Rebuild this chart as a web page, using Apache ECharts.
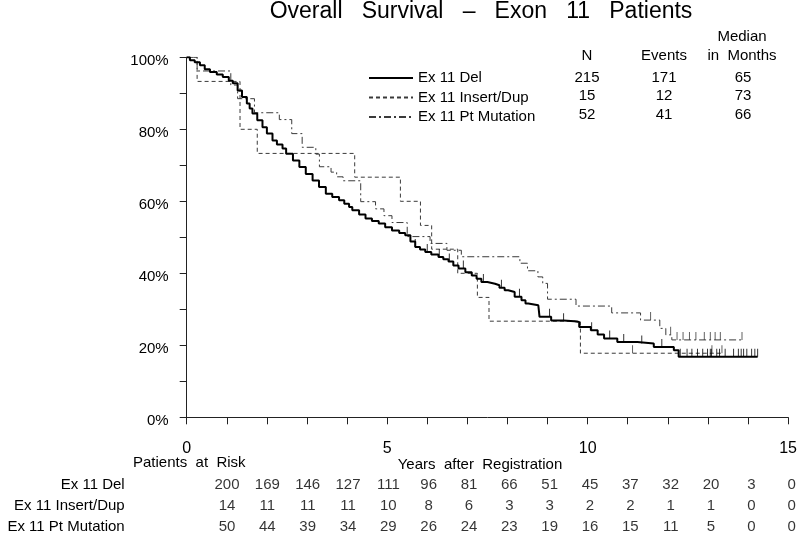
<!DOCTYPE html>
<html><head><meta charset="utf-8">
<script src="https://cdn.jsdelivr.net/npm/echarts@6/dist/echarts.min.js"></script>
<style>html,body{margin:0;padding:0;background:#fff}#c{width:800px;height:534px}</style>
</head><body><div id="c"></div>
<script>
// ---------- data ----------
const seriesNames = ['Ex 11 Del', 'Ex 11 Insert/Dup', 'Ex 11 Pt Mutation'];
// Kaplan-Meier curves: [years, survival %]
const delCurve = [[0,100],[0.08,99.2],[0.2,98.6],[0.33,97.8],[0.45,96.7],[0.58,95.9],[0.75,95.2],[0.9,94.5],[1.05,93.5],[1.15,92.8],[1.27,90.8],[1.38,89],[1.5,87.2],[1.57,85.8],[1.64,84.4],[1.76,82.5],[1.89,80.6],[2.0,78.8],[2.14,76.9],[2.25,75.8],[2.39,74.7],[2.48,73.2],[2.65,71.3],[2.81,69.5],[2.97,67.6],[3.14,65.8],[3.3,64],[3.47,62.1],[3.63,61.2],[3.8,60.3],[3.93,59.3],[4.05,58.4],[4.13,57.5],[4.3,56.3],[4.46,55.2],[4.62,54.5],[4.79,53.8],[4.95,52.8],[5.12,51.9],[5.3,51.2],[5.45,50.6],[5.58,48.8],[5.7,47.3],[5.82,46.6],[5.95,45.9],[6.1,45.2],[6.28,44.5],[6.4,43.9],[6.53,43.3],[6.65,42.2],[6.78,41.3],[6.95,40.3],[7.11,39.4],[7.23,38.5],[7.35,37.6],[7.5,37.1],[7.69,36.7],[7.8,36],[7.93,35.3],[8.02,34.8],[8.18,33.5],[8.35,32.5],[8.45,31.6],[8.52,31.1],[8.77,30.6],[8.8,27.9],[9.09,26.9],[9.4,26.7],[9.67,26.5],[9.79,25.1],[10.08,24.2],[10.25,23],[10.41,21.9],[10.74,20.9],[11.24,20.5],[11.65,19.5],[12.15,18.6],[12.27,16.8],[14.24,16.8]];
const insCurve = [[0,100],[0.26,93.3],[1.33,80],[1.76,73.3],[4.19,66.7],[5.33,60],[5.83,53.3],[6.11,46.7],[6.76,40],[7.25,33.3],[7.54,26.7],[9.82,17.8],[13.35,17.8]];
const ptCurve = [[0,100],[0.26,96.2],[1.1,92.3],[1.27,88.5],[1.69,84.6],[2.31,82.7],[2.62,78.8],[2.88,75],[3.22,73.1],[3.31,69.6],[3.6,68.1],[3.74,66.8],[3.9,65.7],[4.34,59.9],[4.71,57.9],[4.92,56],[5.12,54.1],[5.5,50.2],[6.07,48.3],[6.49,46.4],[6.85,44.6],[8.31,42.8],[8.5,40.7],[8.76,39],[8.88,37.2],[9.0,32.8],[9.71,30.9],[10.6,29],[11.32,27],[11.8,24.7],[11.95,22.9],[12.1,21.5],[13.85,21.5]];
// censoring times (years)
const delCensorYears = [5.7,6.0,6.3,6.55,6.9,7.4,7.85,8.3,9.05,9.4,10.1,10.55,10.9,11.35,11.85,12.31,12.48,12.6,12.74,12.87,12.99,13.06,13.09,13.22,13.29,13.43,13.64,13.76,13.83,13.89,13.97,14.09,14.17,14.24];
const insCensorYears = [11.12,13.1,13.35];
const ptCensorYears = [11.57,12.07,12.23,12.38,12.54,12.7,12.91,13.06,13.18,13.31,13.85];
// legend table
const legendN = ['215', '15', '52'];
const legendEvents = ['171', '12', '41'];
const legendMedian = ['65', '73', '66'];
// patients at risk
const riskYears = [1,2,3,4,5,6,7,8,9,10,11,12,13,14,15];
const riskDel = [200,169,146,127,111,96,81,66,51,45,37,32,20,3,0];
const riskIns = [14,11,11,11,10,8,6,3,3,2,2,1,1,0,0];
const riskPt = [50,44,39,34,29,26,24,23,19,16,15,11,5,0,0];
const xLabelYears = [0, 5, 10, 15];

// ---------- chart ----------
const FONT = 'Liberation Sans, Arial, sans-serif';
const survAt = (curve, t) => { let s = curve[0][1]; for (const p of curve) { if (p[0] <= t) s = p[1]; } return s; };
const censorData = (curve, yrs) => yrs.map(t => [t, survAt(curve, t)]);
const riskRows = [riskDel, riskIns, riskPt];
const riskData = [];
riskRows.forEach((row, r) => row.forEach((v, i) => riskData.push([riskYears[i], r, v])));

const lineColor = ['#000', '#3a3a3a', '#3a3a3a'];
const lineStyles = [
  {color: '#000', width: 2, type: 'solid'},
  {color: '#3a3a3a', width: 1, type: [4, 3]},
  {color: '#3a3a3a', width: 1, type: [7, 3, 2, 3]}
];
const curves = [delCurve, insCurve, ptCurve];
const censors = [delCensorYears, insCensorYears, ptCensorYears];

const series = [];
curves.forEach((c, i) => series.push({
  name: seriesNames[i], type: 'line', step: 'end', symbol: 'none', data: c,
  lineStyle: lineStyles[i], itemStyle: {color: lineColor[i]}, silent: true, z: 3 - i
}));
censors.forEach((yrs, i) => series.push({
  type: 'scatter', data: censorData(curves[i], yrs), symbol: 'rect',
  symbolSize: [1, 8], symbolOffset: [0, -4], itemStyle: {color: lineColor[i]}, silent: true
}));
series.push({
  type: 'scatter', xAxisIndex: 1, yAxisIndex: 1, data: riskData, symbolSize: 0, silent: true,
  label: {show: true, position: 'inside', formatter: p => String(p.value[2]), fontSize: 15, color: '#000', fontFamily: FONT}
});

const legendRowY = [77.5, 96, 114.5];
const txt = (x, y, text, align, size) => ({type: 'text', x: x, y: y, silent: true,
  style: {text: text, font: (size || 15) + 'px ' + FONT, fill: '#000', textAlign: align || 'center', textVerticalAlign: 'middle'}});
const graphic = [
  txt(481, 12, 'Overall   Survival   –   Exon   11   Patients', 'center', 23),
  txt(742, 37, 'Median'),
  txt(587, 56, 'N'),
  txt(664, 56, 'Events'),
  txt(742, 56, 'in  Months'),
  txt(133, 463, 'Patients  at  Risk', 'left'),
  txt(480, 465, 'Years  after  Registration')
];
[[legendN, 587], [legendEvents, 664], [legendMedian, 743]].forEach(([arr, x]) =>
  arr.forEach((t, i) => graphic.push(txt(x, legendRowY[i], t))));

const chart = echarts.init(document.getElementById('c'), null, {renderer: 'canvas'});
chart.setOption({
  animation: false,
  backgroundColor: '#fff',
  textStyle: {fontFamily: FONT},
  grid: [
    {left: 186.7, right: 8.3, top: 57.3, height: 360},
    {left: 186.7, right: 8.3, top: 485, height: 43}
  ],
  xAxis: [
    {type: 'value', min: 0, max: 15, interval: 1,
     axisLine: {lineStyle: {color: '#222', width: 1}},
     axisTick: {length: 7, lineStyle: {color: '#222'}},
     axisLabel: {margin: 23, fontSize: 16, color: '#000', fontFamily: FONT,
       formatter: v => (xLabelYears.indexOf(v) >= 0 ? String(v) : '')},
     splitLine: {show: false}},
    {type: 'value', gridIndex: 1, min: 0, max: 15, show: false}
  ],
  yAxis: [
    {type: 'value', min: 0, max: 100, interval: 20,
     axisLine: {show: true, lineStyle: {color: '#222', width: 1}},
     axisTick: {show: true, length: 7, lineStyle: {color: '#222'}},
     minorTick: {show: true, splitNumber: 2, length: 7, lineStyle: {color: '#222'}},
     axisLabel: {margin: 18, fontSize: 15, color: '#000', fontFamily: FONT, formatter: '{value}%',
       verticalAlign: 'top', lineHeight: 8},
     splitLine: {show: false}},
    {type: 'category', gridIndex: 1, data: seriesNames, inverse: true, boundaryGap: false,
     axisLine: {show: false}, axisTick: {show: false},
     axisLabel: {margin: 62, fontSize: 15, color: '#000', fontFamily: FONT}}
  ],
  legend: {
    data: seriesNames, orient: 'vertical', left: 368, top: 70.5, padding: 0,
    itemWidth: 44, itemHeight: 14, itemGap: 4.5, itemTextGap: 6,
    itemStyle: {opacity: 0, borderWidth: 0},
    textStyle: {fontSize: 15, color: '#000', fontFamily: FONT, lineHeight: 14},
    selectedMode: false
  },
  graphic: graphic,
  series: series
});
</script></body></html>
